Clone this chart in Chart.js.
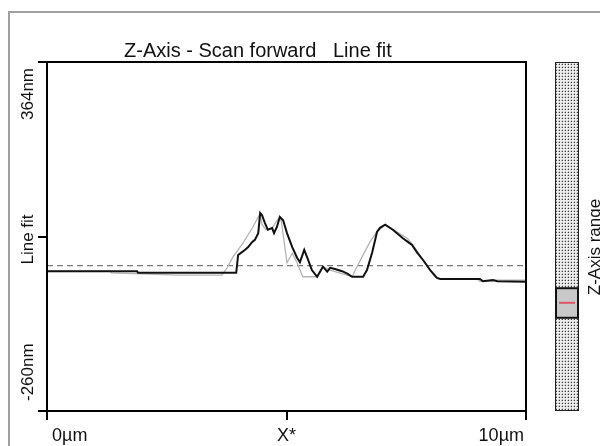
<!DOCTYPE html>
<html><head><meta charset="utf-8">
<script src="https://cdn.jsdelivr.net/npm/chart.js@4/dist/chart.umd.min.js"></script>
<style>html,body{margin:0;padding:0;background:#fff;overflow:hidden}canvas{display:block}</style>
</head><body>
<canvas id="c" width="600" height="446"></canvas>
<script>
// ---- data (x in µm, z in nm) ----
const profileX = [0, 1.88, 1.90, 3.93, 3.95, 3.99, 4.07, 4.13, 4.20, 4.28, 4.34, 4.41, 4.45, 4.49, 4.55, 4.61, 4.70, 4.74, 4.80, 4.86, 4.93, 5.01, 5.12, 5.22, 5.28, 5.37, 5.43, 5.53, 5.64, 5.70, 5.76, 5.85, 5.91, 6.01, 6.16, 6.28, 6.37, 6.60, 6.68, 6.79, 6.89, 6.95, 7.06, 7.22, 7.43, 7.54, 7.62, 7.72, 7.85, 8.00, 8.14, 8.21, 9.04, 9.10, 9.31, 9.40, 10];
const profileZ = [-10, -10, -13, -13, -13, 19, 24, 28, 33, 42, 46, 58, 94, 90, 76, 64, 67, 58, 69, 87, 81, 58, 33, 14, 6, 28, 15, -8, -20, -11, -2, -11, -4, -6, -10, -15, -20, -20, -8, 24, 60, 67, 73, 64, 49, 42, 37, 24, 10, -8, -22, -24, -24, -28, -26, -28, -29];
const fitX = [0, 1.32, 1.34, 2.74, 3.65, 3.76, 3.88, 4.09, 4.30, 4.41, 4.45, 4.49, 4.57, 4.70, 4.82, 4.89, 5.01, 5.12, 5.22, 5.34, 5.64, 5.76, 5.91, 6.26, 6.37, 6.47, 6.74, 6.95, 7.06, 7.27, 7.52, 7.64, 7.85, 8.10, 8.21, 8.98, 9.04, 9.31, 9.35, 10];
const fitZ = [-10, -10, -13, -17, -17, -4, 15, 40, 69, 87, 92, 73, 64, 67, 83, 81, 5, 22, 5, -20, -20, -2, -8, -17, -20, -2, 42, 69, 73, 62, 49, 37, 10, -20, -24, -24, -28, -28, -26, -26];
const zeroLevel = 0;
const xRange = [0, 10];
const zRange = [-260, 364];
const yTickValues = [364, 52, -260];
const yTickLabels = ['364nm', 'Line fit', '-260nm'];
const xTickValues = [0, 5, 10];
const xTickLabels = ['0µm', 'X*', '10µm'];
const titleText = 'Z-Axis - Scan forward   Line fit';
const sideLabel = 'Z-Axis range';
const rangeWindow = [0.65, 0.735];
const rangeMarker = 0.692;

const FONT = '"Liberation Sans", Arial, sans-serif';

function pts(xs, ys) { return xs.map((v, i) => ({x: v, y: ys[i]})); }

function makePattern(ctx) {
  const c = document.createElement('canvas');
  c.width = 3; c.height = 3;
  const p = c.getContext('2d');
  p.fillStyle = '#ececec'; p.fillRect(0, 0, 3, 3);
  p.fillStyle = '#bdbdbd'; p.fillRect(0, 1, 1, 1); p.fillRect(1, 0, 1, 1);
  p.fillStyle = '#3c3c3c'; p.fillRect(1, 1, 1, 1);
  return ctx.createPattern(c, 'repeat');
}

const decor = {
  id: 'decor',
  beforeDraw(chart) {
    const ctx = chart.ctx;
    ctx.save();
    ctx.fillStyle = '#fff';
    ctx.fillRect(0, 0, chart.width, chart.height);
    ctx.strokeStyle = '#a0a0a0'; ctx.lineWidth = 2;
    ctx.beginPath(); ctx.moveTo(9, chart.height); ctx.lineTo(9, 12); ctx.lineTo(chart.width, 12); ctx.stroke();
    ctx.restore();
  },
  afterDraw(chart) {
    const {ctx, chartArea: a, scales: {x, y}} = chart;
    ctx.save();
    ctx.strokeStyle = '#000'; ctx.lineWidth = 2;
    const seg = (x1, y1, x2, y2) => { ctx.beginPath(); ctx.moveTo(x1, y1); ctx.lineTo(x2, y2); ctx.stroke(); };
    ctx.strokeRect(a.left, a.top, a.right - a.left, a.bottom - a.top);
    yTickValues.forEach(v => { const py = Math.round(y.getPixelForValue(v)); seg(a.left - 9, py, a.left, py); });
    xTickValues.forEach(v => { const px = Math.round(x.getPixelForValue(v)); seg(px, a.bottom, px, a.bottom + 9); });

    ctx.fillStyle = '#111';
    // y labels (rotated)
    ctx.font = '17px ' + FONT;
    const aligns = ['right', 'center', 'left'];
    const offs = [6, 3, -10];
    yTickValues.forEach((v, i) => {
      const py = y.getPixelForValue(v) + offs[i];
      ctx.save(); ctx.translate(33, py); ctx.rotate(-Math.PI / 2);
      ctx.textAlign = aligns[i]; ctx.textBaseline = 'alphabetic';
      ctx.fillText(yTickLabels[i], 0, 0); ctx.restore();
    });
    // x labels
    ctx.font = '18px ' + FONT;
    const xal = ['left', 'center', 'right'];
    const xoff = [5, 0, -2];
    xTickValues.forEach((v, i) => {
      ctx.textAlign = xal[i]; ctx.textBaseline = 'alphabetic';
      ctx.fillText(xTickLabels[i], x.getPixelForValue(v) + xoff[i], 441);
    });
    // title
    ctx.font = '20px ' + FONT;
    ctx.textAlign = 'left';
    ctx.fillText(titleText, 124, 57);

    // colour bar
    const bx = 555, bw = 23, btop = a.top, bbot = a.bottom - 1;
    ctx.fillStyle = makePattern(ctx);
    ctx.fillRect(bx, btop, bw, bbot - btop);
    ctx.strokeStyle = '#222'; ctx.lineWidth = 1;
    ctx.strokeRect(bx + 0.5, btop + 0.5, bw, bbot - btop);
    const h = bbot - btop;
    const w0 = btop + rangeWindow[0] * h, w1 = btop + rangeWindow[1] * h;
    ctx.fillStyle = '#c9c9c9';
    ctx.fillRect(bx, w0, bw, w1 - w0);
    ctx.lineWidth = 2; ctx.strokeStyle = '#111';
    ctx.strokeRect(bx + 1, w0, bw - 1, w1 - w0);
    ctx.strokeStyle = '#e2566a'; ctx.lineWidth = 2;
    const my = btop + rangeMarker * h;
    seg(bx + 4, my, bx + bw - 3, my);
    // side label
    ctx.fillStyle = '#111';
    ctx.font = '17px ' + FONT;
    ctx.save(); ctx.translate(587, 247); ctx.rotate(-Math.PI / 2);
    ctx.textAlign = 'center'; ctx.textBaseline = 'top';
    ctx.fillText(sideLabel, 0, 0); ctx.restore();
    ctx.restore();
  }
};

new Chart(document.getElementById('c'), {
  type: 'line',
  data: {
    datasets: [
      {data: pts([xRange[0], xRange[1]], [zeroLevel, zeroLevel]), borderColor: '#7a7a7a', borderWidth: 1.3, borderDash: [6, 4], pointRadius: 0, order: 3},
      {data: pts(fitX, fitZ), borderColor: '#b4b4b4', borderWidth: 1.3, pointRadius: 0, order: 2},
      {data: pts(profileX, profileZ), borderColor: '#111', borderWidth: 2, pointRadius: 0, order: 1}
    ]
  },
  options: {
    responsive: false, animation: false, devicePixelRatio: 1,
    layout: {padding: {left: 47, right: 74, top: 62, bottom: 35}},
    elements: {line: {tension: 0}},
    scales: {
      x: {type: 'linear', min: xRange[0], max: xRange[1], display: false},
      y: {type: 'linear', min: zRange[0], max: zRange[1], display: false}
    },
    plugins: {legend: {display: false}, title: {display: false}, tooltip: {enabled: false}}
  },
  plugins: [decor]
});
</script>
</body></html>
